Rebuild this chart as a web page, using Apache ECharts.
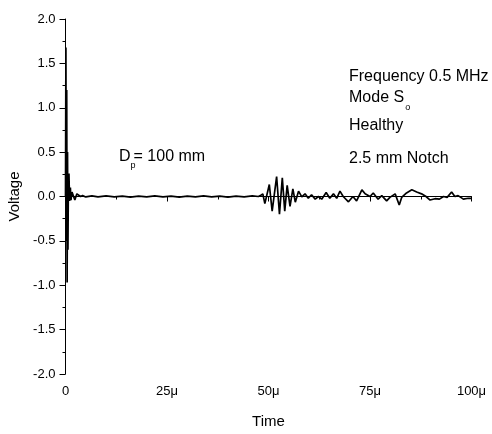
<!DOCTYPE html>
<html>
<head>
<meta charset="utf-8">
<script src="https://cdn.jsdelivr.net/npm/echarts@6/dist/echarts.min.js"></script>
<style>html,body{margin:0;padding:0;background:#fff}#c{width:492px;height:434px}</style>
</head>
<body>
<div id="c"></div>
<script>
// Time in microseconds
const times = [0, 0.1, 0.2, 0.3, 0.4, 0.5, 0.6, 0.7, 0.85, 1.0, 1.2, 1.35, 1.6, 1.9, 2.3, 2.8, 3.2, 3.7, 4.2,
  5, 6.5, 8, 10, 12, 14, 16, 18, 20, 22, 24, 26, 28, 30, 32, 34, 36, 38, 40, 42, 44, 46, 47.5, 48.0,
  48.6, 49.1, 50.2, 50.9, 52.0, 52.7, 53.4, 54.0, 54.6, 55.3, 56.0, 56.6, 57.4, 58.2, 59.0, 59.8,
  60.6, 61.5, 62.3, 63.1, 64.2, 65.1, 66.0, 66.8, 67.6, 68.4, 69.7, 70.8, 71.7, 73.0, 73.8, 75.0,
  75.8, 77.0, 77.9, 79.1, 79.9, 81.2, 82.2, 82.8, 84.0, 85.3, 86.5, 87.7, 88.8, 89.8, 91.0, 92.1,
  93.1, 94.0, 95.1, 95.9, 96.7, 98.0, 99.2, 100];
const volts = [0, 1.68, -0.5, 1.2, -0.97, 0.5, -0.6, 0.1, 0.26, -0.05, 0.1, -0.04, 0.05, 0.07, -0.04, 0.03, 0.04, 0.0, 0.01,
  -0.005, 0.008, -0.004, 0.006, -0.005, 0.004, -0.006, 0.005, -0.004, 0.006, -0.005, 0.004, -0.006, 0.005, -0.004, 0.006, -0.005, 0.004, -0.006, 0.005, -0.004, 0.006, 0.0, 0.01,
  0.03, -0.08, 0.135, -0.165, 0.225, -0.2, 0.21, -0.165, 0.125, -0.11, 0.087, -0.064, 0.06, -0.005, 0.03, -0.02,
  0.02, -0.03, 0.0, -0.03, 0.045, -0.02, 0.03, -0.02, 0.06, 0.0, -0.06, 0.0, -0.05, 0.075, 0.03, 0.0,
  0.04, -0.03, 0.01, -0.05, -0.01, 0.03, -0.095, -0.01, 0.04, 0.075, 0.05, 0.03, 0.0, -0.04, -0.025, -0.03,
  0.0, -0.01, 0.05, 0.0, 0.01, -0.03, -0.02, -0.02];
const xTicks = [0, 25, 50, 75, 100];
const yTicks = [-2.0, -1.5, -1.0, -0.5, 0.0, 0.5, 1.0, 1.5, 2.0];

const FONT = "'Liberation Sans', Arial, sans-serif";
const chart = echarts.init(document.getElementById('c'), null, {renderer: 'canvas'});
const data = times.map((t, i) => [t, volts[i]]);

const ctx = document.createElement('canvas').getContext('2d');
function tw(s, size) { ctx.font = size + "px 'Liberation Sans'"; return ctx.measureText(s).width; }

const ann = 16;
const modeX = 349, dX = 119;
chart.setOption({
  animation: false,
  grid: {left: 65.5, right: 20.5, top: 19, bottom: 60, containLabel: false, outerBoundsMode: 'none'},
  xAxis: {
    type: 'value', min: xTicks[0], max: xTicks[xTicks.length - 1], interval: 25,
    name: 'Time', nameLocation: 'middle', nameGap: 40,
    nameTextStyle: {fontFamily: FONT, fontSize: 15, color: '#000'},
    axisLine: {show: true, lineStyle: {color: '#000', width: 1}},
    axisTick: {show: true, length: 5, lineStyle: {color: '#000'}},
    minorTick: {show: true, splitNumber: 2, length: 3, lineStyle: {color: '#000'}},
    splitLine: {show: false},
    axisLabel: {fontFamily: FONT, fontSize: 13, color: '#000', margin: 11,
      formatter: v => v === 0 ? '0' : v + 'μ'}
  },
  yAxis: {
    type: 'value', min: yTicks[0], max: yTicks[yTicks.length - 1], interval: 0.5,
    name: 'Voltage', nameLocation: 'middle', nameGap: 41,
    nameTextStyle: {fontFamily: FONT, fontSize: 15, color: '#000'},
    axisLine: {show: true, onZero: false, lineStyle: {color: '#000', width: 1}},
    axisTick: {show: true, length: 6, lineStyle: {color: '#000'}},
    minorTick: {show: true, splitNumber: 2, length: 3, lineStyle: {color: '#000'}},
    splitLine: {show: false},
    axisLabel: {fontFamily: FONT, fontSize: 13, color: '#000', margin: 10,
      formatter: v => v.toFixed(1)}
  },
  series: [{
    type: 'line', data: data, showSymbol: false, symbol: 'none',
    lineStyle: {color: '#000', width: 1.7}, clip: true
  }],
  graphic: [
    {type: 'text', left: modeX, top: 69, style: {text: 'Frequency 0.5 MHz', font: ann + 'px ' + FONT, fill: '#000'}},
    {type: 'text', left: modeX, top: 90, style: {text: 'Mode S', font: ann + 'px ' + FONT, fill: '#000'}},
    {type: 'text', left: modeX + tw('Mode S', ann) + 1, top: 103, style: {text: 'o', font: '9px ' + FONT, fill: '#000'}},
    {type: 'text', left: modeX, top: 118, style: {text: 'Healthy', font: ann + 'px ' + FONT, fill: '#000'}},
    {type: 'text', left: modeX, top: 151, style: {text: '2.5 mm Notch', font: ann + 'px ' + FONT, fill: '#000'}},
    {type: 'text', left: dX, top: 149, style: {text: 'D', font: ann + 'px ' + FONT, fill: '#000'}},
    {type: 'text', left: dX + tw('D', ann), top: 161, style: {text: 'p', font: '9px ' + FONT, fill: '#000'}},
    {type: 'text', left: dX + tw('D', ann) + 3, top: 149, style: {text: '= 100 mm', font: ann + 'px ' + FONT, fill: '#000'}}
  ]
});
</script>
</body>
</html>
